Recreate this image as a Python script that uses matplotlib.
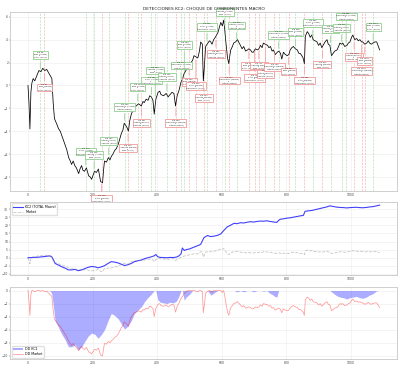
import numpy as np
import matplotlib
matplotlib.use('Agg')
import matplotlib.pyplot as plt

# ---------------- datos ----------------
market_days = [0, 3, 6, 9, 12, 16, 21, 28, 34, 40, 46, 52, 58, 64, 70, 74, 78, 82, 88, 95,
               100, 105, 110, 114, 120, 126, 131, 135, 140, 145, 150, 157, 161, 166, 170, 175, 181, 188, 193, 197,
               202, 206, 212, 218, 222, 225, 231, 234, 237, 243, 249, 254, 258, 263, 268, 274, 280, 285, 289, 294,
               298, 303, 307, 311, 315, 320, 325, 329, 335, 342, 347, 351, 356, 360, 366, 372, 377, 382, 387, 391,
               396, 403, 408, 412, 420, 428, 434, 440, 446, 452, 457, 462, 468, 474, 479, 483, 489, 495, 500, 505,
               510, 514, 520, 526, 531, 535, 540, 543, 546, 550, 557, 562, 566, 570, 575, 580, 588, 592, 597, 602,
               606, 609, 612, 616, 618, 622, 625, 628, 633, 637, 643, 649, 654, 658, 663, 668, 674, 680, 684, 689,
               694, 698, 704, 711, 715, 720, 725, 729, 735, 742, 746, 751, 756, 760, 766, 772, 777, 782, 786, 791,
               797, 803, 808, 812, 817, 822, 828, 834, 839, 843, 848, 852, 856, 859, 865, 870, 874, 879, 883, 889,
               895, 900, 905, 910, 914, 920, 926, 930, 935, 940, 945, 950, 957, 962, 966, 971, 975, 981, 988, 992,
               997, 1002, 1006, 1012, 1018, 1023, 1028, 1033, 1037, 1043, 1049, 1054, 1058, 1063, 1068, 1074, 1080, 1085, 1089]
market_vals = [0.0, -1.5, -3.8, -0.6, 0.2, 0.6, 0.4, 0.9, 1.3, 1.2, 1.5, 1.3, 1.4, 1.1, 0.8, 0.6, -1.5, -2.9, -3.3, -3.8,
               -4.0, -4.4, -4.8, -5.1, -5.6, -6.3, -6.6, -6.9, -6.6, -7.0, -7.2, -7.7, -7.3, -7.0, -7.4, -7.5, -7.2, -7.9, -8.0, -8.2,
               -7.8, -7.5, -7.6, -7.3, -7.9, -8.4, -8.5, -7.4, -6.6, -6.7, -6.3, -6.5, -6.2, -6.0, -5.7, -5.5, -5.1, -4.6, -4.2, -3.9,
               -3.3, -3.5, -3.7, -4.0, -3.1, -2.5, -2.2, -1.9, -1.8, -1.6, -1.7, -1.8, -1.4, -1.5, -1.2, -1.3, -0.9, -1.0, -1.3, -2.5,
               -1.2, -0.6, -0.5, -0.8, -0.9, -0.7, -1.0, -0.8, -0.6, -0.7, -1.8, -0.9, -0.4, 0.3, 0.6, 1.0, 1.3, 1.6, 1.8, 2.0,
               2.2, 2.6, 2.5, 2.4, 3.0, 3.8, 3.6, 0.4, 1.5, 3.4, 3.7, 3.9, 3.8, 3.6, 4.0, 4.2, 4.6, 5.0, 5.5, 5.2,
               5.7, 5.0, 4.0, 2.9, 2.4, 1.9, 2.6, 3.1, 3.4, 3.7, 3.8, 4.0, 3.7, 3.5, 3.2, 3.4, 3.0, 3.1, 3.2, 3.1,
               2.9, 2.9, 3.2, 3.1, 3.2, 3.5, 3.3, 3.7, 3.6, 3.5, 3.3, 3.4, 3.0, 3.1, 2.7, 2.9, 3.0, 2.8, 2.3, 2.9,
               2.7, 2.6, 2.7, 3.1, 3.3, 3.4, 3.2, 3.1, 2.8, 2.8, 2.6, 2.4, 1.9, 4.3, 4.7, 4.5, 4.2, 4.4, 4.0, 3.9,
               3.8, 3.5, 3.7, 3.3, 3.5, 3.8, 4.0, 3.6, 3.5, 2.6, 2.8, 3.0, 3.1, 3.4, 3.7, 3.6, 3.7, 3.4, 3.5, 3.7,
               3.8, 4.2, 4.4, 4.0, 4.1, 3.9, 4.0, 3.8, 3.8, 3.6, 3.7, 3.9, 3.7, 3.6, 3.7, 3.8, 3.8, 3.4, 3.1]

kc2_days = [0, 10, 20, 30, 40, 50, 58, 64, 70, 74, 79, 84, 95, 105, 115, 125, 135, 146, 156, 166,
            176, 186, 197, 207, 217, 228, 238, 248, 258, 268, 279, 289, 299, 310, 320, 330, 340, 351, 361, 371,
            381, 391, 396, 402, 410, 420, 430, 440, 450, 460, 468, 474, 478, 484, 490, 500, 510, 520, 530, 535,
            545, 556, 566, 576, 587, 597, 607, 617, 628, 638, 648, 658, 668, 679, 689, 699, 710, 720, 730, 740,
            748, 756, 764, 771, 776, 781, 792, 802, 812, 822, 833, 843, 853, 858, 868, 878, 883, 893, 904, 914,
            925, 935, 945, 956, 966, 977, 987, 997, 1007, 1017, 1027, 1037, 1048, 1058, 1068, 1078, 1084, 1089]
kc2_vals = [0.0, 0.1, 0.2, 0.3, 0.5, 0.7, 0.9, 1.1, 1.0, 0.5, -1.4, -3.5, -4.6, -5.6, -6.4, -7.5, -7.5, -7.2, -8.0, -7.5,
            -6.7, -5.9, -5.4, -5.6, -6.2, -5.6, -4.8, -3.5, -2.4, -2.7, -3.2, -4.0, -4.8, -4.3, -3.5, -2.4, -1.9, -1.4, -0.6, 0.0,
            0.5, 1.2, 2.0, 0.6, 0.2, 0.1, 0.0, 0.2, 0.1, 0.4, 1.2, 2.4, 6.0, 4.5, 5.0, 5.4, 6.2, 7.0, 7.8, 8.3,
            12.4, 13.7, 13.0, 13.3, 13.8, 14.7, 16.9, 19.0, 20.1, 21.2, 21.0, 21.6, 21.4, 21.9, 22.2, 22.0, 22.4, 22.6, 22.5, 22.8,
            22.4, 22.2, 21.9, 21.8, 23.0, 23.7, 24.0, 24.4, 24.6, 25.0, 25.4, 25.8, 26.1, 28.6, 28.9, 29.1, 29.3, 29.8, 30.3, 30.8,
            31.3, 32.0, 31.6, 31.2, 31.0, 30.9, 30.7, 30.9, 31.0, 31.1, 30.9, 30.8, 31.0, 31.3, 31.5, 31.9, 32.2, 32.4]

# eventos: verde = choque alcista, rojo = choque bajista
green_days = [38, 179, 205, 250, 299, 340, 382, 394, 430, 474, 484, 554, 609, 646, 776, 828, 882, 937, 971, 985, 1069]
red_days = [51, 228, 310, 351, 458, 499, 520, 544, 582, 623, 684, 702, 715, 735, 763, 807, 856, 912, 1010, 1033, 1043]

comp_a = ['Tasas', 'Dólar', 'Inflación', 'Crédito', 'Crecimiento']
comp_b = ['Dólar', 'Crecimiento', 'Tasas', 'Inflación', 'Crédito']

mdays = np.array(market_days)
mvals = np.array(market_vals)
sdays = np.array(kc2_days)
svals = np.array(kc2_vals)

dd_market = mvals - np.maximum.accumulate(mvals)
dd_kc2 = svals - np.maximum.accumulate(svals)

fig = plt.figure(figsize=(4, 3.65), dpi=100)
ax1 = fig.add_axes([0.026, 0.477, 0.967, 0.490])
ax2 = fig.add_axes([0.026, 0.247, 0.967, 0.200], sharex=ax1)
ax3 = fig.add_axes([0.026, 0.016, 0.967, 0.197], sharex=ax1)

for ax in (ax1, ax2, ax3):
    ax.set_facecolor('white')
    ax.grid(True, color='#ececec', lw=0.4)
    ax.set_axisbelow(True)
    for s in ax.spines.values():
        s.set_color('#c8c8c8')
        s.set_linewidth(0.6)
    ax.tick_params(labelsize=2.2, length=1, width=0.3, pad=0.6, colors='#444444')
    ax.tick_params(axis='x', labelbottom=True)

# panel superior: precio + detecciones
ax1.plot(mdays, mvals, color='black', lw=0.55)
for d in green_days:
    ax1.axvline(d, color='#2ca02c', ls='--', lw=0.45, alpha=0.35)
for d in red_days:
    ax1.axvline(d, color='#d62728', ls='--', lw=0.45, alpha=0.35)


def add_events(days, edge, sign, signo):
    prev = -999
    level = 0
    for i, d in enumerate(days):
        j = np.abs(mdays - d).argmin()
        y = mvals[j]
        level = level + 1 if d - prev < 25 else 0
        prev = d
        off = sign * (12 + 9 * (level % 2))
        txt = f"Día {d}\n{comp_a[i % 5]} ({signo})\nvs\n{comp_b[i % 5]} (Macro)"
        ax1.annotate(txt, xy=(d, y), xytext=(0, off), textcoords='offset points',
                     ha='center', va='center', fontsize=1.4, color='#222222',
                     bbox=dict(boxstyle='square,pad=0.35', fc='white', ec=edge, lw=0.6),
                     arrowprops=dict(arrowstyle='-', color=edge, lw=0.5),
                     annotation_clip=False)


add_events(green_days, '#8fcf8f', 1, 'Alcista')
add_events(red_days, '#f29a9a', -1, 'Bajista')
ax1.set_title('DETECCIONES KC2: CHOQUE DE COMPONENTES MACRO', fontsize=3.2, pad=2, color='#222222')

# panel medio: retorno acumulado
ax2.plot(sdays, svals, color='blue', lw=0.8, alpha=0.75, label='KC2 (TOTAL Macro)')
ax2.plot(mdays, mvals, color='gray', lw=0.6, ls='--', alpha=0.45, label='Market')
ax2.legend(loc='upper left', fontsize=2.3, frameon=True, framealpha=0.9, edgecolor='#dddddd',
           handlelength=3, borderpad=0.4, labelspacing=0.3)

# panel inferior: drawdown
ax3.fill_between(sdays, dd_kc2, 0, color='blue', alpha=0.32, lw=0, label='DD KC2')
ax3.plot(mdays, dd_market, color='red', lw=0.55, alpha=0.4, label='DD Market')
ax3.legend(loc='lower left', fontsize=2.3, frameon=True, framealpha=0.9, edgecolor='#dddddd',
           handlelength=3, borderpad=0.4, labelspacing=0.3)

fig.savefig('out.png', dpi=100)
